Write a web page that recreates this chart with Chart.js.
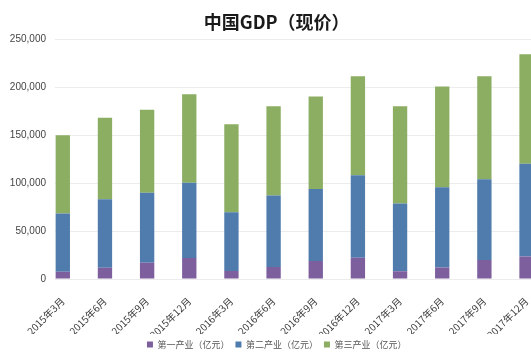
<!DOCTYPE html>
<html>
<head>
<meta charset="utf-8">
<script src="https://cdn.jsdelivr.net/npm/chart.js@4"></script>
<style>
  html, body { margin: 0; padding: 0; background: #ffffff; overflow: hidden; }
  #wrap { width: 555px; height: 353px; position: relative; }
</style>
</head>
<body>
<div id="wrap"><canvas id="gdp"></canvas></div>
<script>
// Quarterly GDP by sector, 100 million yuan
const categories = ['2015年3月', '2015年6月', '2015年9月', '2015年12月',
                    '2016年3月', '2016年6月', '2016年9月', '2016年12月',
                    '2017年3月', '2017年6月', '2017年9月', '2017年12月'];
const primary   = [7700, 11800, 17000, 22000, 8400, 12600, 18800, 22300, 8000, 12100, 19900, 23600];
const secondary = [60600, 71500, 73000, 78400, 61300, 74500, 75300, 86100, 70800, 83700, 84300, 96700];
const tertiary  = [81900, 85100, 86800, 92400, 92000, 93400, 96600, 103200, 101700, 105300, 107400, 114300];
const seriesNames = ['第一产业（亿元）', '第二产业（亿元）', '第三产业（亿元）'];
const yTicks = [0, 50000, 100000, 150000, 200000, 250000];

const toPoints = arr => arr.map((v, i) => ({ x: i, y: v }));

const latin = '"Liberation Sans", "Noto Sans CJK SC", sans-serif';
const cjk = '"Noto Sans CJK SC", "Liberation Sans", sans-serif';

new Chart(document.getElementById('gdp'), {
  type: 'bar',
  data: {
    datasets: [
      { label: seriesNames[0], data: toPoints(primary),   backgroundColor: '#7D5F9E' },
      { label: seriesNames[1], data: toPoints(secondary), backgroundColor: '#4F7CAD' },
      { label: seriesNames[2], data: toPoints(tertiary),  backgroundColor: '#8CAE63' }
    ]
  },
  options: {
    responsive: true,
    maintainAspectRatio: false,
    animation: false,
    layout: { padding: { left: 10, right: 11.6, top: 6, bottom: -6 } },
    datasets: { bar: { categoryPercentage: 1, barPercentage: 0.34 } },
    plugins: {
      title: {
        display: true,
        text: '中国GDP（现价）',
        color: '#1a1a1a',
        font: { family: cjk, size: 18, weight: 'bold' },
        padding: { top: 5, bottom: 7 }
      },
      legend: {
        position: 'bottom',
        labels: {
          boxWidth: 6,
          boxHeight: 6,
          padding: 6,
          color: '#555555',
          font: { family: cjk, size: 9 }
        }
      },
      tooltip: { enabled: false }
    },
    scales: {
      x: {
        type: 'linear',
        stacked: true,
        offset: false,
        min: -0.185,
        max: 11.4,
        grid: { display: false, drawTicks: false },
        border: { display: false },
        afterFit: axis => { axis.height = 55; },
        ticks: {
          stepSize: 1,
          includeBounds: false,
          autoSkip: false,
          minRotation: 45,
          maxRotation: 45,
          padding: 16,
          color: '#3a3a3a',
          font: { family: cjk, size: 10 },
          callback: v => categories[v] ?? ''
        }
      },
      y: {
        stacked: true,
        min: 0,
        max: 250000,
        afterBuildTicks: axis => { axis.ticks = yTicks.map(v => ({ value: v })); },
        afterFit: axis => { axis.width = 45; },
        grid: { color: '#ececec', lineWidth: 1, drawTicks: false },
        border: { display: false },
        ticks: {
          padding: 9,
          color: '#444444',
          font: { family: latin, size: 10 },
          callback: v => v.toLocaleString('en-US')
        }
      }
    }
  }
});
</script>
</body>
</html>
